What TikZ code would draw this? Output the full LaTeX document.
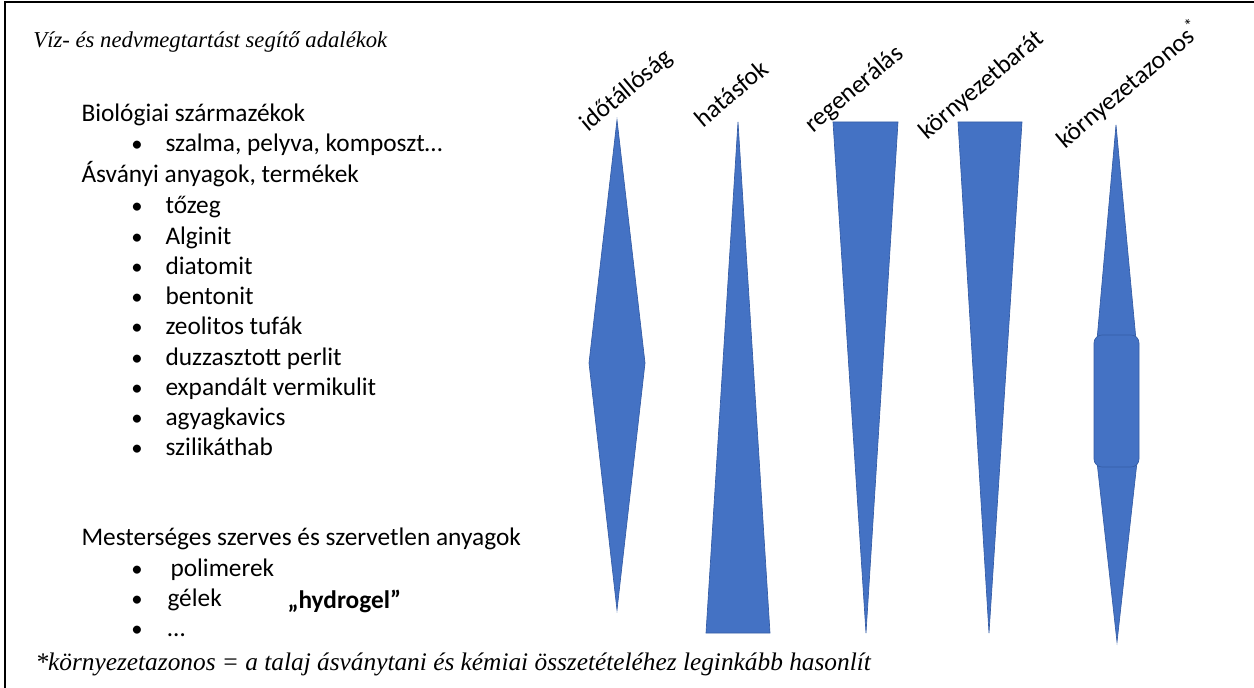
\documentclass[tikz,border=0pt]{standalone}
\usepackage{fontspec}
\setmainfont{Carlito}
\newfontfamily\timesit{Liberation Serif}[ItalicFont=* Italic]
\definecolor{barblue}{RGB}{68,114,196}
\definecolor{barline}{RGB}{52,92,165}
\tikzset{every picture/.style={line width=0.75pt}}
\tikzset{
  bar/.style={fill=barblue, draw=barline, line width=0.5},
  listtext/.style={anchor=base west, inner sep=0.75pt, font=\fontsize{19}{22}\selectfont},
  bulletdot/.style={anchor=base, inner sep=0.75pt, font=\fontsize{17}{20}\selectfont},
  collabel/.style={anchor=base west, inner sep=0.75pt, rotate=40, font=\fontsize{19}{22}\selectfont},
  note/.style={anchor=base west, inner sep=0.75pt, font=\timesit\itshape\fontsize{17}{20}\selectfont}
}

\begin{document}
\begin{tikzpicture}[x=0.75pt,y=0.75pt,yscale=-1,xscale=1]
\useasboundingbox (0,0) rectangle (1254,688);
\draw [line width=1]  (5,688) -- (5,2) -- (1254,2) ;

% bars
\draw  [bar]  (617,120) -- (645,363) -- (617,610) -- (589,363) -- cycle ;
\draw  [bar]  (738,122) -- (770,633) -- (706,633) -- cycle ;
\draw  [bar]  (833,122) -- (898,122) -- (866,633) -- cycle ;
\draw  [bar]  (958,122) -- (1022,122) -- (989,633) -- cycle ;
\draw  [bar]  (1116,125) -- (1136,340) -- (1097,340) -- cycle ;
\draw  [bar]  (1097,462) -- (1137,462) -- (1117,642) -- cycle ;
\draw  [bar, rounded corners=6]  (1094,335) rectangle (1139,467) ;

% column labels
\draw (587,133) node [collabel] (lidotallo) {időtállóság};
\draw (702,129) node [collabel] (lhatasfok) {hatásfok};
\draw (812,134) node [collabel] (lregen) {regenerálás};
\draw (926,141) node [collabel] (lbarat) {környezetbarát};
\draw (1064,150) node [collabel] (lazonos) {környezetazonos\textsuperscript{*}};

% title and footnote
\draw (32,48) node [note] (title) {Víz- és nedvmegtartást segítő adalékok};
\draw (34,670) node [note, font=\timesit\itshape\fontsize{19}{22}\selectfont] (footnote) {*környezetazonos = a talaj ásványtani és kémiai összetételéhez leginkább hasonlít};

% list
\draw (80,122) node [listtext] (hbio) {Biológiai származékok};
\draw (137,152) node [bulletdot] {•};
\draw (164,152) node [listtext] (iszalma) {szalma, pelyva, komposzt…};
\draw (80,183) node [listtext] (hasvany) {Ásványi anyagok, termékek};
\foreach \item [count=\i from 0] in {tőzeg, Alginit, diatomit, bentonit, zeolitos tufák, duzzasztott perlit, expandált vermikulit, agyagkavics, szilikáthab}
{
  \draw (137,214+30.2*\i) node [bulletdot] {•};
  \draw (164,214+30.2*\i) node [listtext] (imin\i) {\item};
}
\draw (80,545) node [listtext] (hmest) {Mesterséges szerves és szervetlen anyagok};
\draw (137,576) node [bulletdot] {•};
\draw (169,576) node [listtext] (ipolim) {polimerek};
\draw (137,606) node [bulletdot] {•};
\draw (166,606) node [listtext] (igelek) {gélek};
\draw (137,636) node [bulletdot] {•};
\draw (166,636) node [listtext] (idots) {…};
\draw (286,608) node [listtext, font=\fontsize{19}{22}\selectfont\bfseries] (hydro) {„hydrogel”};
\end{tikzpicture}
\end{document}
